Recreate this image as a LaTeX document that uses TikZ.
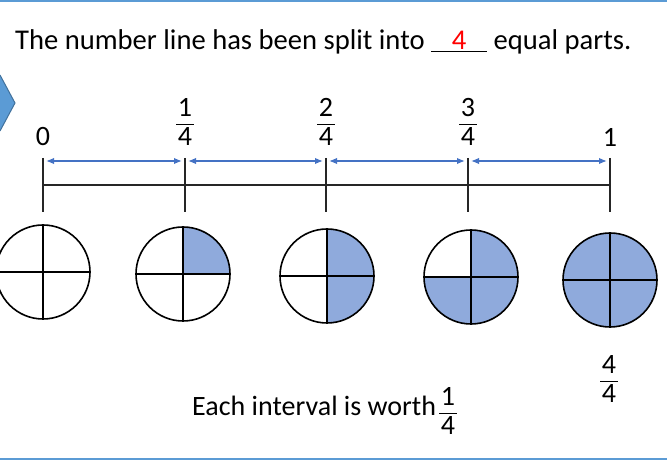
\documentclass[tikz,border=0pt]{standalone}
\usepackage{fontspec}
\setmainfont{Carlito}
\usepackage{tikz}
\usetikzlibrary{arrows.meta, positioning}
\definecolor{slideblue}{RGB}{91, 155, 213}
\definecolor{slideedge}{RGB}{65, 113, 156}
\definecolor{jumpblue}{RGB}{68, 114, 196}
\definecolor{partblue}{RGB}{143, 170, 220}
\newcommand{\nfrac}[2]{{\setlength{\arrayrulewidth}{1.3pt}\renewcommand{\arraystretch}{0.8}%
    \begin{tabular}{@{\hspace{1.5pt}}c@{\hspace{1.5pt}}}#1\\\hline\rule{0pt}{20pt}#2\end{tabular}}}

\begin{document}
\begin{tikzpicture}[
    x=1pt, y=-1pt,
    txt/.style={font=\fontsize{28}{32}\selectfont, inner sep=0pt},
    ticklin/.style={draw=black!85, line width=1.2pt},
    jump/.style={{Latex[length=8pt,width=6.5pt]}-{Latex[length=8pt,width=6.5pt]}, draw=jumpblue, line width=1.5pt},
    pie/.style={circle, draw, line width=1.6pt, minimum size=94pt, inner sep=0pt},
    part/.style={fill=partblue}
]
    \useasboundingbox (0,0) rectangle (667,462);

    % Slide frame
    \draw[slideblue, line width=2.5pt] (0,1) -- (667,1);
    \draw[slideblue, line width=2.5pt] (0,459) -- (667,459);
    \fill[slideblue] (0,75) -- (15,103) -- (0,131) -- cycle;
    \draw[slideedge, line width=1pt] (0,75) -- (15,103) -- (0,131);

    % Question
    \node[txt, font=\fontsize{28.6}{32}\selectfont, anchor=base west] (title) at (15,50)
        {The number line has been split into \underline{\makebox[56pt]{\textcolor{red}{4}}} equal parts.};

    % Number line
    \foreach \i/\px in {0/43, 1/185, 2/326, 3/468, 4/610}
        \coordinate (t\i) at (\px,185);
    \draw[ticklin] (t0) -- (t4);
    \foreach \i in {0,...,4}
        \draw[ticklin] ([yshift=27pt]t\i) -- ([yshift=-27pt]t\i);
    \foreach \i/\j in {0/1, 1/2, 2/3, 3/4}
        \draw[jump] ([xshift=3pt, yshift=24pt]t\i) -- ([xshift=-3pt, yshift=24pt]t\j);

    % Labels
    \node[txt] (n0) at (43,137) {0};
    \node[txt, anchor=north] (n1) at (185,98) {\nfrac{1}{4}};
    \node[txt, anchor=north] (n2) at (326,98) {\nfrac{2}{4}};
    \node[txt, anchor=north] (n3) at (468,98) {\nfrac{3}{4}};
    \node[txt] (n4) at (610,137) {1};

    % Circles
    \foreach \i/\px/\py in {1/43/272, 2/183/274, 3/327/276, 4/471/277, 5/610/280}
        \coordinate (c\i) at (\px,\py);
    \foreach \i/\a in {2/0, 3/0, 3/270, 4/0, 4/270, 4/180, 5/0, 5/90, 5/180, 5/270}
        \fill[part] (c\i) -- ++(\a:47pt) arc[start angle=\a, delta angle=90, radius=47pt] -- cycle;
    \foreach \i in {1,...,5} {
        \node[pie] (pie\i) at (c\i) {};
        \draw[line width=1.6pt] (pie\i.north) -- (pie\i.south);
        \draw[line width=1.6pt] (pie\i.west) -- (pie\i.east);
    }

    % Bottom notes
    \node[txt, anchor=north] (whole) at (609,355) {\nfrac{4}{4}};
    \node[txt, anchor=base west] (worth) at (192,415) {Each interval is worth};
    \node[txt, anchor=north] (wfrac) at (448,387) {\nfrac{1}{4}};
\end{tikzpicture}
\end{document}
